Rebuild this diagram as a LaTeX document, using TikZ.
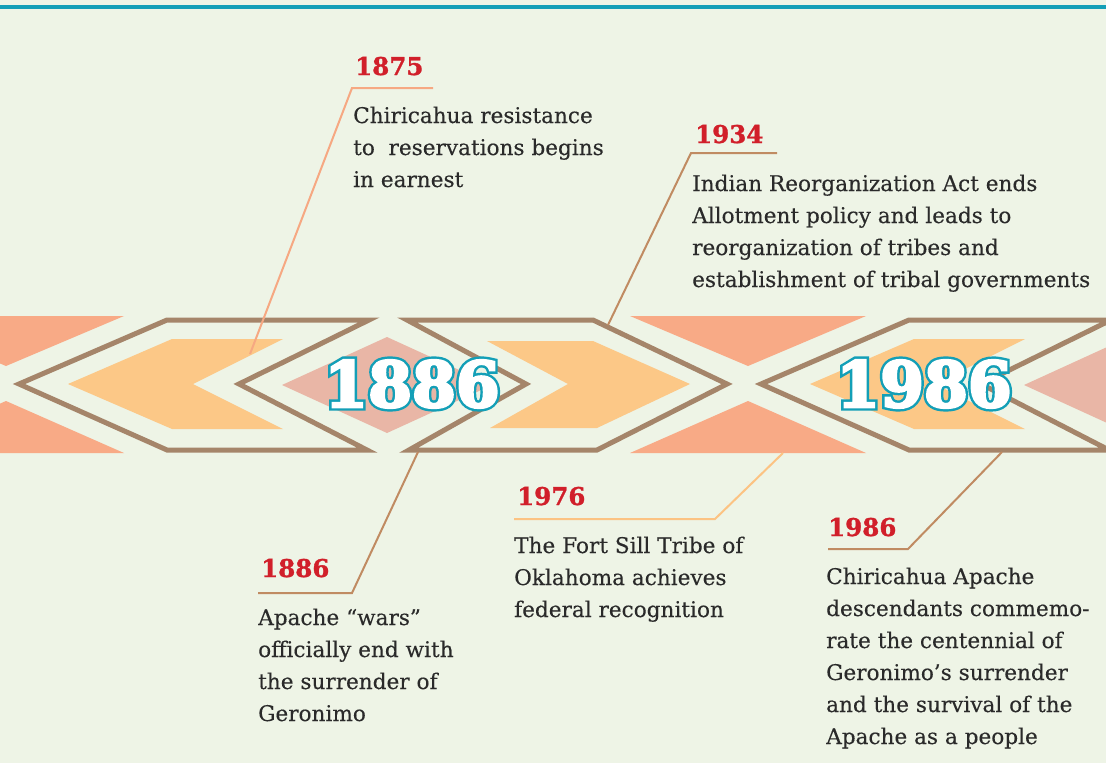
\documentclass[tikz,border=0pt]{standalone}
\usepackage{fontspec}
\setmainfont{DejaVu Serif}
\newfontfamily\heavyserif[FakeBold=4.2]{DejaVu Serif}
\newfontfamily\outlineserif[FakeBold=12]{DejaVu Serif}
\newfontfamily\labelserif[FakeBold=1.2]{DejaVu Serif}
\newfontfamily\bodyserif[FakeBold=0.25]{DejaVu Serif}
\usetikzlibrary{calc}
\definecolor{bg}{HTML}{EEF4E6}
\definecolor{brownline}{HTML}{A5856A}
\definecolor{orangefill}{HTML}{FCC887}
\definecolor{salmonfill}{HTML}{F8AA86}
\definecolor{pinkfill}{HTML}{E9B6A6}
\definecolor{tealc}{HTML}{139FB7}
\definecolor{redc}{HTML}{D11F2A}
\definecolor{txt}{HTML}{2A2A2A}
\definecolor{connA}{HTML}{F6A882}
\definecolor{connB}{HTML}{C08B62}
\definecolor{connC}{HTML}{FCC383}
\tikzset{
 bodytext/.style={anchor=base west, inner sep=0pt, align=left, text=txt, font=\bodyserif\fontsize{21.6}{32}\selectfont},
 yearlabel/.style={anchor=base west, inner sep=0pt, text=redc, font=\labelserif\bfseries\fontsize{24.5}{28}\selectfont},
 bigyear/.style={inner sep=0pt, text=white, font=\heavyserif\bfseries\fontsize{63}{70}\selectfont},
 bigyearoutline/.style={inner sep=0pt, text=tealc, font=\outlineserif\bfseries\fontsize{63}{70}\selectfont},
 conn/.style={line width=2pt},
 band/.style={draw=brownline, line width=5pt, line join=miter},
}
\begin{document}
\begin{tikzpicture}[x=1pt,y=-1pt]
\fill[bg] (0,0) rectangle (1106,763);
\useasboundingbox (0,0) rectangle (1106,763);
\fill[tealc] (0,5) rectangle (1106,8.5);
\begin{scope}
\clip (0,0) rectangle (1106,763);
\foreach \k in {-742,0,742}{
\begin{scope}[shift={(\k,0)}]
 \fill[salmonfill] (-112,316) -- (124,316) -- (6,366) -- cycle;
 \fill[salmonfill] (-112,453) -- (124,453) -- (6,401) -- cycle;
 \fill[pinkfill] (282,385) -- (387,337) -- (492,385) -- (387,433) -- cycle;
 \fill[orangefill] (68,384) -- (172,339) -- (283,339) -- (193,384) -- (283,429) -- (172,429) -- cycle;
 \fill[orangefill] (487,341) -- (593,341) -- (690,384) -- (597,428) -- (490,428) -- (568,384) -- cycle;
 \draw[band] (19,384) -- (167,320) -- (369,320) -- (239,384) -- (367,450) -- (167,450) -- cycle;
 \draw[band] (407,320) -- (593,320) -- (727,384) -- (597,450) -- (409,450) -- (526,384) -- cycle;
\end{scope}
}
\end{scope}

% connector end points
\coordinate (u1875) at (433,88);  \coordinate (k1875) at (352,88);  \coordinate (e1875) at (250,354);
\coordinate (u1934) at (777,153); \coordinate (k1934) at (691,153); \coordinate (e1934) at (608,325);
\coordinate (u1886) at (258,593); \coordinate (k1886) at (352,593); \coordinate (e1886) at (418,452);
\coordinate (u1976) at (514,519); \coordinate (k1976) at (715,519); \coordinate (e1976) at (783,453);
\coordinate (u1986) at (828,549); \coordinate (k1986) at (908,549); \coordinate (e1986) at (1002,452);

\draw[conn, connA] (u1875) -- (k1875) -- (e1875);
\draw[conn, connB] (u1934) -- (k1934) -- (e1934);
\draw[conn, connB] (u1886) -- (k1886) -- (e1886);
\draw[conn, connC] (u1976) -- (k1976) -- (e1976);
\draw[conn, connB] (u1986) -- (k1986) -- (e1986);

% big years with teal outline
\node[bigyearoutline] (big1886o) at (412,384) {1886};
\node[bigyearoutline] (big1986o) at (924,384) {1986};
\node[bigyear] (big1886) at (412,384) {1886};
\node[bigyear] (big1986) at (924,384) {1986};

% labels (base anchor = baseline of last line)
\node[yearlabel] (y1875) at (355,75) {1875};
\node[bodytext] (t1875) at (353,187) {Chiricahua resistance\\to\ \ reservations begins\\in earnest};
\node[yearlabel] (y1934) at (695,143) {1934};
\node[bodytext] (t1934) at (692,287) {Indian Reorganization Act ends\\Allotment policy and leads to\\reorganization of tribes and\\establishment of tribal governments};
\node[yearlabel] (y1886) at (261,577) {1886};
\node[bodytext] (t1886) at (258,721) {Apache “wars”\\officially end with\\the surrender of\\Geronimo};
\node[yearlabel] (y1976) at (517,505) {1976};
\node[bodytext] (t1976) at (514,617) {The Fort Sill Tribe of\\Oklahoma achieves\\federal recognition};
\node[yearlabel] (y1986) at (828,536) {1986};
\node[bodytext] (t1986) at (826,744) {Chiricahua Apache\\descendants commemo-\\rate the centennial of\\Geronimo’s surrender\\and the survival of the\\Apache as a people};
\end{tikzpicture}
\end{document}
